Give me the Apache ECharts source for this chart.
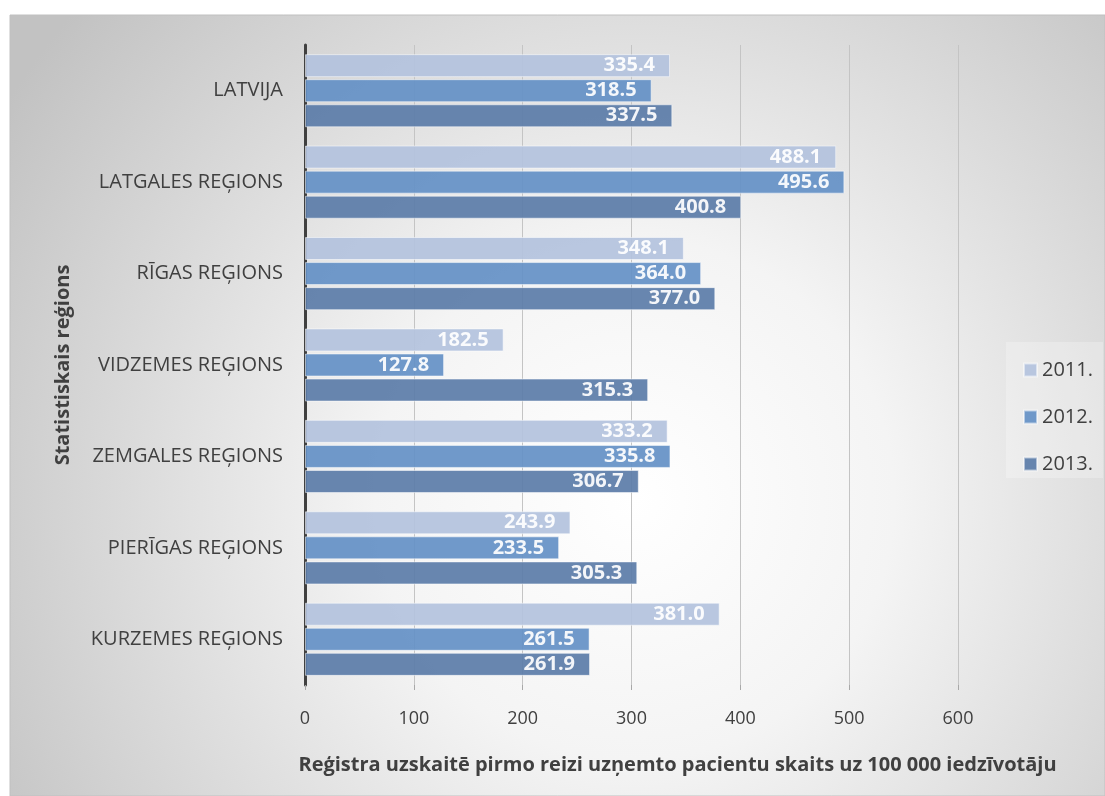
<!DOCTYPE html>
<html>
<head>
<meta charset="utf-8">
<script src="https://cdn.jsdelivr.net/npm/echarts@6/dist/echarts.min.js"></script>
<style>
html,body{margin:0;padding:0;background:#fff;}
#c{width:1105px;height:796px;}
</style>
</head>
<body>
<div id="c"></div>
<script>
const categories = ['LATVIJA','LATGALES REĢIONS','RĪGAS REĢIONS','VIDZEMES REĢIONS','ZEMGALES REĢIONS','PIERĪGAS REĢIONS','KURZEMES REĢIONS'];
const years = ['2011.','2012.','2013.'];
const values2011 = [335.4, 488.1, 348.1, 182.5, 333.2, 243.9, 381.0];
const values2012 = [318.5, 495.6, 364.0, 127.8, 335.8, 233.5, 261.5];
const values2013 = [337.5, 400.8, 377.0, 315.3, 306.7, 305.3, 261.9];
const xTicks = [0, 100, 200, 300, 400, 500, 600];

const colors = ['#b3c2dd', '#6490c6', '#5b7ca8'];
const FONT = '"Open Sans", "Noto Sans", sans-serif';

const chart = echarts.init(document.getElementById('c'), null, {renderer:'canvas'});

function mkSeries(name, data, color){
  return {
    name: name,
    type: 'bar',
    data: data,
    barWidth: 23,
    barGap: '9%',
    itemStyle: {color: color, opacity: 0.92, borderColor: 'rgba(255,255,255,0.55)', borderWidth: 1},
    label: {
      show: true,
      position: 'insideRight',
      distance: 15,
      color: '#ffffff',
      fontWeight: 'bold',
      fontSize: 20,
      fontFamily: FONT,
      formatter: p => p.value.toFixed(1)
    }
  };
}

const option = {
  backgroundColor: '#ffffff',
  animation: false,
  graphic: [
    {
      type: 'rect', z: -10, silent: true,
      shape: {x: 10, y: 15, width: 1095, height: 781},
      style: {
        fill: new echarts.graphic.RadialGradient(0.57, 0.62, 0.95, [
          {offset: 0, color: '#ffffff'},
          {offset: 0.35, color: '#f4f4f4'},
          {offset: 1, color: '#c2c2c2'}
        ]),
        stroke: '#c0c0c0', lineWidth: 1
      }
    },
    {
      type: 'rect', z: -5, silent: true,
      shape: {x: 1006, y: 342, width: 97, height: 136},
      style: {fill: 'rgba(255,255,255,0.25)'}
    }
  ],
  grid: {left: 305, right: 147, top: 45, bottom: 111, containLabel: false},
  legend: {
    orient: 'vertical',
    left: 1018, top: 355,
    itemWidth: 13, itemHeight: 13,
    itemGap: 27,
    icon: 'rect',
    textStyle: {fontSize: 20, color: '#404040', fontFamily: FONT},
    data: years
  },
  xAxis: {
    type: 'value',
    min: 0, max: 600, interval: 100,
    name: 'Reģistra uzskaitē pirmo reizi uzņemto pacientu skaits uz 100 000 iedzīvotāju',
    nameLocation: 'middle',
    nameGap: 70,
    nameTextStyle: {fontSize: 20, fontWeight: 'bold', color: '#404040', fontFamily: FONT, padding: [0, 0, 0, 92]},
    axisLine: {show: false},
    axisTick: {show: true, length: 5, lineStyle: {color: '#a8a8a8'}},
    splitLine: {show: true, lineStyle: {color: '#c4c4c4', width: 1}},
    axisLabel: {fontSize: 18, color: '#404040', fontFamily: FONT, margin: 25,
      formatter: v => xTicks.includes(v) ? String(v) : ''}
  },
  yAxis: {
    type: 'category',
    data: categories,
    inverse: true,
    name: 'Statistiskais reģions',
    nameLocation: 'middle',
    nameGap: 232,
    nameRotate: 90,
    nameTextStyle: {fontSize: 20, fontWeight: 'bold', color: '#404040', fontFamily: FONT},
    axisLine: {show: true, lineStyle: {color: '#404040', width: 3}},
    axisTick: {show: false},
    axisLabel: {fontSize: 20, color: '#404040', fontFamily: FONT, margin: 22}
  },
  series: [
    mkSeries(years[0], values2011, colors[0]),
    mkSeries(years[1], values2012, colors[1]),
    mkSeries(years[2], values2013, colors[2])
  ]
};
chart.setOption(option);
</script>
</body>
</html>
